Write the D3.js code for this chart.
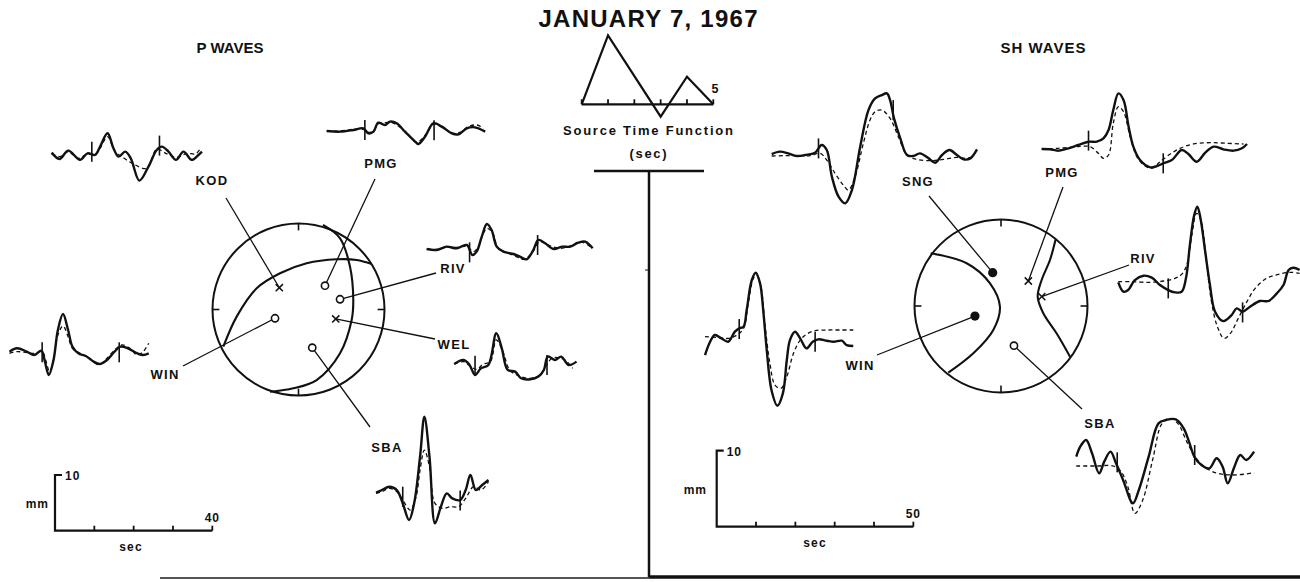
<!DOCTYPE html>
<html>
<head>
<meta charset="utf-8">
<script src="https://cdn.jsdelivr.net/npm/d3@7"></script>
<style>
  body { margin: 0; background: #fff; }
  svg text { font-family: "Liberation Sans", Arial, sans-serif; font-weight: bold; fill: #111; }
</style>
</head>
<body>
<svg id="fig" width="1300" height="582"></svg>
<script>
// ---- source time function (sec, relative amplitude)
const stfTime = [0, 1, 3, 4, 5];
const stfAmp = [0, 1, -0.18, 0.4, 0];
const stfTicks = [0, 1, 2, 3, 4, 5];

// ---- focal mechanism nodal lines (unit circle coords, x east, y north)
const pPlaneA = [[0.285,0.983],[0.483,0.828],[0.599,0.498],[0.637,0.110],[0.618,-0.122],[0.483,-0.509],[0.211,-0.820],[-0.06,-0.916],[-0.331,-0.956]];
const pPlaneB = [[-0.874,-0.433],[-0.719,-0.083],[-0.486,0.247],[-0.215,0.421],[0.095,0.537],[0.444,0.584],[0.677,0.576],[0.851,0.529]];
const shPlaneA = [[-0.813,0.609],[-0.397,0.494],[-0.127,0.262],[-0.012,-0.008],[-0.089,-0.277],[-0.320,-0.547],[-0.609,-0.771]];
const shPlaneB = [[0.632,0.771],[0.566,0.532],[0.470,0.301],[0.424,0.108],[0.489,-0.084],[0.644,-0.318],[0.798,-0.586]];

// ---- stations
const pStations = ['KOD', 'PMG', 'RIV', 'WEL', 'WIN', 'SBA'];
const pStationXY = [[-0.223,0.253],[0.308,0.277],[0.483,0.119],[0.433,-0.110],[-0.273,-0.102],[0.160,-0.444]];
const pStationMark = ['x', 'o', 'o', 'x', 'o', 'o'];
const shStations = ['SNG', 'PMG', 'RIV', 'WIN', 'SBA'];
const shStationXY = [[-0.096,0.385],[0.316,0.289],[0.471,0.108],[-0.301,-0.116],[0.150,-0.459]];
const shStationMark = ['dot', 'x', 'x', 'dot', 'o'];

// ---- waveforms: [sec, mm]; obs = solid, syn = dashed, picks = window marks
const pKodObs = [[0,0.3],[2.0,-0.84],[4.2,0.66],[7.2,-1.0],[9.1,0.18],[11.0,-0.12],[12.3,1.38],[14.2,3.77],[15.7,1.08],[17.0,-0.42],[18.7,0.48],[20.1,-0.72],[22.3,-4.73],[24.6,-2.21],[26.7,0.78],[28.0,1.38],[29.7,0.48],[31.6,-1.0],[33.5,0.48],[35.6,-1.0],[37.3,-0.12],[38.2,0.48]];
const pKodSyn = [[0,0.06],[2.1,-0.42],[4.2,0.42],[6.8,-0.72],[9.1,0.06],[11.0,-0.06],[12.3,1.08],[14.2,3.17],[16.1,0.48],[17.8,-0.42],[20.8,-1.74],[24.2,-2.51],[26.7,0.9],[29.3,0.06],[31.8,-0.54],[34.4,0.18],[36.5,0.06],[37.7,0.9]];
const pKodPicks = [[10.2,0.48],[27.4,1.56]];

const pPmgObs = [[0,0],[3.4,-0.12],[6.8,0.18],[9.3,0.48],[10.6,-0.42],[11.9,-0.12],[13.1,1.5],[14.8,1.08],[16.1,1.68],[17.8,1.38],[19.9,-0.12],[22.1,-1.62],[23.3,-2.33],[25.0,-1.02],[27.1,1.38],[29.3,0.78],[31.8,-0.42],[33.5,-0.6],[35.6,0.48],[37.7,0.66],[40.3,-0.12]];
const pPmgSyn = [[0,0],[3.4,0],[6.8,0.3],[9.3,0.3],[10.6,-0.24],[11.9,0.06],[13.1,1.26],[14.8,1.5],[16.5,1.5],[18.2,0.9],[20.4,-0.42],[22.5,-1.92],[23.7,-1.74],[25.4,-0.42],[27.3,1.26],[29.7,0.48],[32.2,-0.42],[33.9,-0.24],[36.0,0.78],[38.2,1.08],[39.9,0.48]];
const pPmgPicks = [[9.7,0.18],[27.3,0.12]];

const pRivObs = [[0,0],[2.5,-0.18],[5.1,0.42],[7.6,0.12],[10.2,0.72],[11.6,-1.08],[12.7,-0.48],[14.0,2.21],[15.3,4.49],[16.5,3.41],[17.8,0.42],[19.5,-0.48],[22.1,-0.9],[23.7,-1.38],[25.4,-1.86],[27.1,-0.18],[28.4,1.62],[30.1,1.02],[32.2,0],[34.4,0.42],[36.5,0.42],[38.6,1.14],[40.3,1.32],[42.2,0.12]];
const pRivSyn = [[0,0],[2.5,-0.06],[5.1,0.3],[7.6,0.3],[10.2,0.42],[11.9,-0.48],[13.1,0.42],[14.4,2.81],[15.4,3.71],[16.8,2.81],[18.2,0.12],[20.4,-0.66],[22.5,-1.26],[24.6,-1.86],[26.7,-0.78],[28.8,1.32],[31.4,0.54],[33.9,0.12],[36.5,0.54],[39.0,1.32],[41.6,0.42]];
const pRivPicks = [[10.9,-0.6],[28.2,0.72]];

const pWinObs = [[0,0.12],[1.9,0.72],[4.4,0.12],[6.3,-0.48],[8.1,0.3],[9.0,-1.68],[10.0,-4.07],[11.2,-1.38],[12.3,4.0],[13.6,6.88],[14.9,4.0],[16.0,1.02],[17.5,-0.18],[19.4,-0.66],[21.4,-1.68],[23.0,-2.09],[24.8,-1.38],[26.7,0.12],[28.2,1.02],[30.1,0.72],[32.5,-0.18],[34.0,-0.48],[35.4,-0.18]];
const pWinSyn = [[0,-0.18],[1.9,0.12],[4.4,-0.06],[6.3,-0.18],[8.3,0.12],[9.2,-1.38],[10.2,-3.47],[11.2,-1.2],[12.3,3.11],[13.6,4.73],[14.9,2.81],[16.0,0.72],[18.0,-0.18],[20.4,-1.08],[22.6,-2.27],[24.8,-1.08],[26.7,0.42],[28.6,1.32],[30.6,0.72],[32.5,-0.48],[34.0,0.12],[35.4,1.62]];
const pWinPicks = [[8.3,0],[27.9,0]];

const pWelObs = [[0,-0.12],[2.4,0.6],[3.9,-0.3],[5.3,-2.09],[6.8,-0.9],[8.7,-0.3],[10.7,5.39],[12.1,2.69],[13.6,-1.2],[15.5,-1.5],[17.0,-2.69],[19.4,-2.87],[21.4,-2.39],[22.8,-1.2],[23.8,1.2],[25.7,0.6],[27.2,1.2],[29.1,-0.3],[31.1,0.3]];
const pWelSyn = [[0,-0.12],[2.4,0.3],[4.4,-0.72],[5.8,-1.08],[7.3,-0.18],[9.2,0.3],[10.7,4.19],[12.4,2.09],[14.1,-1.2],[16.5,-2.27],[19.4,-2.69],[21.8,-2.09],[23.5,-0.3],[24.8,0.9],[26.2,1.02],[28.2,0.6],[30.1,-0.9]];
const pWelPicks = [[5.3,-0.45],[23.6,-0.3]];

const pSbaObs = [[0,-0.18],[1.5,0.3],[3.4,0.9],[5.3,0.3],[6.8,-2.09],[8.4,-5.09],[9.7,-2.09],[11.2,6.28],[12.3,13.46],[13.6,6.28],[15.0,-5.69],[16.5,-2.69],[18.0,-0.3],[19.4,-1.2],[21.4,-1.5],[22.8,0.3],[24.0,2.99],[25.4,0.3],[27.0,1.2],[28.6,2.1]];
const pSbaSyn = [[0,-0.3],[1.5,0],[3.4,0.6],[5.3,0],[6.8,-1.5],[8.7,-3.29],[10.2,-0.9],[11.2,3.89],[12.3,7.48],[13.6,4.49],[15.0,-2.09],[17.0,-2.99],[18.9,-2.69],[21.0,-2.69],[22.8,-1.2],[24.8,0.9],[26.7,0.3],[28.6,1.8]];
const pSbaPicks = [[6.8,-0.9],[21.4,-1.6]];

const shSngObs = [[0,0.22],[2.1,0.53],[4.2,0.31],[6.4,-0.04],[8.5,0.09],[11.0,0.39],[12.7,1.4],[14.0,0.75],[15.3,-2.76],[17.0,-5.39],[18.7,-6.27],[20.4,-4.52],[22.5,1.18],[24.6,6.0],[26.3,7.54],[28.0,7.98],[29.3,8.2],[30.1,7.32],[31.1,4.91],[32.7,2.28],[34.4,0.09],[36.0,-0.04],[37.7,0.31],[39.9,-0.35],[41.6,-0.92],[43.3,0.09],[45.2,0.75],[47.1,0.09],[48.8,-0.48],[50.5,-0.35],[52.2,0.83]];
const shSngSyn = [[0,-0.04],[3.0,0],[6.4,0],[9.8,0],[12.3,0.31],[14.0,-0.57],[16.1,-2.32],[18.2,-3.86],[19.5,-4.52],[21.2,-2.76],[23.3,1.62],[25.0,4.69],[26.3,5.79],[28.0,6.0],[30.1,4.91],[32.2,2.5],[34.4,0.09],[36.9,-0.48],[40.2,-0.66],[43.7,-0.48],[47.1,-0.22],[49.6,-0.35],[51.3,-0.13]];
const shSngPicks = [[11.9,0.96],[30.9,6.0]];

const shPmgObs = [[0,0],[2.1,-0.04],[4.2,-0.22],[6.8,0.09],[9.3,0.53],[11.9,0.96],[14.0,0.96],[15.7,1.4],[17.0,2.5],[18.2,5.13],[19.5,7.32],[20.8,6.45],[22.1,2.94],[23.3,0.31],[25.0,-1.45],[27.6,-2.41],[29.3,-2.24],[30.9,-1.89],[33.1,-1.45],[35.6,-0.13],[37.3,-0.66],[39.4,-1.67],[41.6,-0.48],[43.7,0.31],[46.2,-0.04],[48.8,-0.22],[50.9,0.09],[52.2,0.66]];
const shPmgSyn = [[0,0],[4.2,0.09],[9.3,0.31],[12.3,0.31],[14.4,-0.57],[15.7,-1.23],[17.0,-0.79],[18.2,3.38],[19.5,5.57],[20.8,4.91],[22.5,1.62],[24.2,-1.01],[26.3,-2.24],[28.0,-2.54],[30.1,-1.67],[32.7,-0.66],[35.2,0.09],[38.6,0.66],[42.8,0.83],[47.1,0.75],[51.3,0.66]];
const shPmgPicks = [[11.9,1.1],[30.9,-1.89]];

const shRivObs = [[0,-0.09],[1.3,-1.32],[2.5,-1.1],[4.2,0.22],[6.4,0.79],[8.5,0.53],[10.6,-0.44],[12.7,-1.1],[14.4,-1.4],[16.1,-1.32],[17.2,0.44],[18.2,4.82],[19.3,8.77],[20.1,9.87],[20.9,8.33],[22.1,3.95],[23.3,-0.44],[24.6,-3.95],[26.7,-5.18],[28.8,-4.39],[30.1,-3.51],[31.6,-3.95],[33.5,-3.29],[36.0,-2.54],[38.2,-2.54],[40.3,-1.54],[42.0,-0.44],[43.3,1.54],[44.5,1.84],[46.1,1.54]];
const shRivSyn = [[0,0],[3.8,0],[8.1,-0.09],[11.5,0.09],[14.4,0.44],[16.1,0.96],[17.4,2.19],[18.7,6.14],[19.9,8.99],[21.0,8.11],[22.3,3.07],[23.7,-2.63],[25.2,-5.92],[26.9,-7.46],[28.5,-6.8],[30.5,-4.82],[32.7,-2.63],[34.8,-0.88],[37.7,0.44],[40.7,0.96],[43.7,1.23],[46.1,1.1]];
const shRivPicks = [[12.7,-0.88],[31.6,-4.04]];

const shWinObs = [[0,-2.41],[1.3,-0.66],[2.5,0.22],[4.2,-0.22],[5.9,-0.66],[7.6,0.66],[8.7,1.1],[9.8,1.32],[10.6,3.51],[11.9,7.46],[12.9,8.42],[14.0,7.02],[14.8,3.51],[15.7,-1.75],[16.9,-7.02],[18.4,-9.08],[19.8,-7.46],[20.8,-3.07],[21.6,-0.44],[22.9,0.66],[24.2,-0.22],[25.8,-1.54],[27.4,-0.66],[28.8,-0.35],[31.0,-0.53],[32.7,-0.66],[34.8,-0.53],[36.0,-1.1],[37.7,-1.23]];
const shWinSyn = [[0,0],[3.0,-0.09],[5.9,-0.22],[8.1,0.22],[9.8,1.1],[11.0,4.39],[12.3,7.68],[13.1,8.11],[14.2,6.58],[15.3,1.32],[16.5,-3.51],[17.8,-6.36],[19.3,-6.8],[20.8,-5.26],[22.5,-2.19],[24.2,-0.44],[25.9,0.35],[28.0,0.79],[31.0,0.88],[34.4,0.88],[37.7,0.88]];
const shWinPicks = [[8.7,1.0],[28.0,-0.66]];

const shSbaObs = [[0,1.23],[1.0,2.54],[2.5,3.42],[4.0,1.67],[5.8,-0.96],[7.1,0.57],[8.7,1.89],[10.1,0.35],[11.9,-1.84],[14.4,-4.91],[15.9,-3.16],[18.4,1.23],[20.9,5.61],[22.8,6.05],[25.3,6.14],[27.3,4.96],[28.8,2.98],[30.0,1.23],[31.8,0.13],[33.8,-0.31],[35.7,1.01],[37.2,-0.09],[38.5,-2.28],[40.2,-0.09],[41.7,1.45],[43.2,0.79],[45.2,1.89]];
const shSbaSyn = [[0,0],[5.0,0],[9.4,0],[11.4,-0.75],[13.1,-2.72],[14.9,-6.23],[16.9,-4.47],[19.4,0.79],[21.8,5.61],[23.8,6.27],[25.8,5.61],[28.3,2.98],[30.8,0.79],[33.8,-0.53],[36.7,-1.05],[40.7,-1.18],[45.2,-0.88]];
const shSbaPicks = [[10.4,0.48],[30.1,1.45]];

// ---- scale bars
const pTimeTicks = [0, 10, 20, 30, 40];
const shTimeTicks = [0, 10, 20, 30, 40, 50];
const ampTicks = [0, 10];

// ---- layout (pixels)
const SEC_PX = 3.933;
const P_MM_PX = 5.57;
const SH_MM_PX = 7.6;
const pBall = { cx: 298.5, cy: 309.5, r: 86 };
const shBall = { cx: 1001, cy: 306, r: 86.5 };

const pLayout = {
  KOD: { lx: 212, ly: 185, ex: 226, ey: 198, x0: 51.7, y0: 154.3 },
  PMG: { lx: 381, ly: 168, ex: 375, ey: 179, x0: 326.7, y0: 131 },
  RIV: { lx: 453, ly: 273, ex: 436, ey: 273, x0: 426.7, y0: 249 },
  WEL: { lx: 454, ly: 349, ex: 435, ey: 339, x0: 454.2, y0: 363.3 },
  WIN: { lx: 165, ly: 379, ex: 183, ey: 366, x0: 9.5, y0: 352.3 },
  SBA: { lx: 387, ly: 452, ex: 370, ey: 427, x0: 376, y0: 491.7 }
};
const shLayout = {
  SNG: { lx: 918, ly: 186, ex: 929, ey: 196, x0: 771.7, y0: 155.7 },
  PMG: { lx: 1062, ly: 177, ex: 1063, ey: 187, x0: 1041.7, y0: 149 },
  RIV: { lx: 1143, ly: 263, ex: 1129, ey: 265, x0: 1118.3, y0: 281.7 },
  WIN: { lx: 860, ly: 370, ex: 877, ey: 355, x0: 705, y0: 336.7 },
  SBA: { lx: 1100, ly: 428, ex: 1082, ey: 409, x0: 1076.3, y0: 466 }
};

const pWaves = { KOD: [pKodObs, pKodSyn, pKodPicks], PMG: [pPmgObs, pPmgSyn, pPmgPicks], RIV: [pRivObs, pRivSyn, pRivPicks],
  WEL: [pWelObs, pWelSyn, pWelPicks], WIN: [pWinObs, pWinSyn, pWinPicks], SBA: [pSbaObs, pSbaSyn, pSbaPicks] };
const shWaves = { SNG: [shSngObs, shSngSyn, shSngPicks], PMG: [shPmgObs, shPmgSyn, shPmgPicks], RIV: [shRivObs, shRivSyn, shRivPicks],
  WIN: [shWinObs, shWinSyn, shWinPicks], SBA: [shSbaObs, shSbaSyn, shSbaPicks] };

const svg = d3.select('#fig');
const ink = '#111';

// ---- titles
svg.append('text').attr('x', 648).attr('y', 27).attr('text-anchor', 'middle')
  .attr('font-size', 24).attr('textLength', 219).attr('lengthAdjust', 'spacing').text('JANUARY 7, 1967');
svg.append('text').attr('x', 230).attr('y', 53).attr('text-anchor', 'middle')
  .attr('font-size', 15).attr('textLength', 67).attr('lengthAdjust', 'spacing').text('P WAVES');
svg.append('text').attr('x', 1043).attr('y', 53).attr('text-anchor', 'middle')
  .attr('font-size', 15).attr('textLength', 85).attr('lengthAdjust', 'spacing').text('SH WAVES');

// ---- source time function
{
  const x = d3.scaleLinear().domain([0, 5]).range([581.7, 713.3]);
  const y = d3.scaleLinear().domain([0, 1]).range([104.3, 35.3]);
  const g = svg.append('g').attr('stroke', ink).attr('fill', 'none');
  g.append('line').attr('x1', x(0)).attr('x2', x(5)).attr('y1', y(0)).attr('y2', y(0)).attr('stroke-width', 2.2);
  g.selectAll('line.tk').data(stfTicks).join('line').attr('class', 'tk')
    .attr('x1', d => x(d)).attr('x2', d => x(d)).attr('y1', y(0)).attr('y2', y(0) - 5).attr('stroke-width', 1.8);
  g.append('path').attr('stroke-width', 2.2).attr('stroke-linejoin', 'miter')
    .attr('d', d3.line().x((d, i) => x(stfTime[i])).y(d => y(d))(stfAmp));
  svg.append('text').attr('x', 715).attr('y', 93).attr('text-anchor', 'middle').attr('font-size', 12.5).text('5');
  svg.append('text').attr('x', 648).attr('y', 135).attr('text-anchor', 'middle').attr('font-size', 13)
    .attr('textLength', 170).attr('lengthAdjust', 'spacing').text('Source Time Function');
  svg.append('text').attr('x', 648).attr('y', 158).attr('text-anchor', 'middle').attr('font-size', 13)
    .attr('textLength', 37).attr('lengthAdjust', 'spacing').text('(sec)');
}

// ---- dividers
svg.append('line').attr('x1', 594).attr('x2', 704).attr('y1', 171).attr('y2', 171).attr('stroke', ink).attr('stroke-width', 2.5);
svg.append('line').attr('x1', 649).attr('x2', 649).attr('y1', 171).attr('y2', 578).attr('stroke', ink).attr('stroke-width', 2.5);
svg.append('line').attr('x1', 645).attr('x2', 649).attr('y1', 270).attr('y2', 270).attr('stroke', ink).attr('stroke-width', 1);
svg.append('line').attr('x1', 160).attr('x2', 649).attr('y1', 578).attr('y2', 578).attr('stroke', '#555').attr('stroke-width', 2);
svg.append('line').attr('x1', 649).attr('x2', 1300).attr('y1', 577).attr('y2', 577).attr('stroke', ink).attr('stroke-width', 3.5);

// ---- waveforms
function drawWave(obs, syn, picks, lay, mmPx) {
  const x = d3.scaleLinear().domain([0, 10]).range([lay.x0, lay.x0 + 10 * SEC_PX]);
  const y = d3.scaleLinear().domain([0, 10]).range([lay.y0, lay.y0 - 10 * mmPx]);
  const line = d3.line().x(d => x(d[0])).y(d => y(d[1])).curve(d3.curveCatmullRom.alpha(0.5));
  const g = svg.append('g').attr('fill', 'none').attr('stroke', ink);
  g.append('path').attr('d', line(syn)).attr('stroke-width', 1.3).attr('stroke-dasharray', '4,3');
  g.append('path').attr('d', line(obs)).attr('stroke-width', 2.4).attr('stroke-linejoin', 'round');
  g.selectAll('line').data(picks).join('line')
    .attr('x1', d => x(d[0])).attr('x2', d => x(d[0]))
    .attr('y1', d => y(d[1]) - 10).attr('y2', d => y(d[1]) + 10).attr('stroke-width', 1.6);
}
Object.entries(pWaves).forEach(([k, w]) => drawWave(w[0], w[1], w[2], pLayout[k], P_MM_PX));
Object.entries(shWaves).forEach(([k, w]) => drawWave(w[0], w[1], w[2], shLayout[k], SH_MM_PX));

// ---- focal spheres
function drawBall(ball, planes, names, xy, marks, layout) {
  const x = d3.scaleLinear().domain([-1, 1]).range([ball.cx - ball.r, ball.cx + ball.r]);
  const y = d3.scaleLinear().domain([-1, 1]).range([ball.cy + ball.r, ball.cy - ball.r]);
  const g = svg.append('g').attr('fill', 'none').attr('stroke', ink);
  g.append('circle').attr('cx', x(0)).attr('cy', y(0)).attr('r', ball.r).attr('stroke-width', 2);
  const card = [[0, 1], [1, 0], [0, -1], [-1, 0]];
  g.selectAll('line.card').data(card).join('line').attr('class', 'card')
    .attr('x1', d => x(d[0])).attr('y1', d => y(d[1]))
    .attr('x2', d => x(d[0] * 0.92)).attr('y2', d => y(d[1] * 0.92)).attr('stroke-width', 1.6);
  const curve = d3.line().x(d => x(d[0])).y(d => y(d[1])).curve(d3.curveCatmullRom.alpha(0.5));
  planes.forEach(p => g.append('path').attr('d', curve(p)).attr('stroke-width', 2.1));
  // leaders
  g.selectAll('line.lead').data(names).join('line').attr('class', 'lead')
    .attr('x1', (d, i) => x(xy[i][0])).attr('y1', (d, i) => y(xy[i][1]))
    .attr('x2', d => layout[d].ex).attr('y2', d => layout[d].ey).attr('stroke-width', 1.3);
  // markers
  names.forEach((n, i) => {
    const px = x(xy[i][0]), py = y(xy[i][1]);
    if (marks[i] === 'x') {
      g.append('path').attr('d', `M${px - 3.6},${py - 3.6}L${px + 3.6},${py + 3.6}M${px - 3.6},${py + 3.6}L${px + 3.6},${py - 3.6}`)
        .attr('stroke-width', 1.5);
    } else if (marks[i] === 'o') {
      g.append('circle').attr('cx', px).attr('cy', py).attr('r', 3.6).attr('fill', '#fff').attr('stroke-width', 1.6);
    } else {
      g.append('circle').attr('cx', px).attr('cy', py).attr('r', 4.6).attr('fill', ink).attr('stroke', 'none');
    }
  });
  svg.selectAll(null).data(names).join('text')
    .attr('x', d => layout[d].lx).attr('y', d => layout[d].ly).attr('text-anchor', 'middle')
    .attr('font-size', 13).attr('letter-spacing', 1.3).text(d => d);
}
drawBall(pBall, [pPlaneA, pPlaneB], pStations, pStationXY, pStationMark, pLayout);
drawBall(shBall, [shPlaneA, shPlaneB], shStations, shStationXY, shStationMark, shLayout);

// ---- amplitude / time scale bars
function drawScale(ticks, ox, oy, mmPx, labs) {
  const x = d3.scaleLinear().domain([0, d3.max(ticks)]).range([ox, ox + d3.max(ticks) * SEC_PX]);
  const y = d3.scaleLinear().domain([0, 10]).range([oy, oy - 10 * mmPx]);
  const g = svg.append('g').attr('stroke', ink).attr('fill', 'none');
  g.append('path').attr('stroke-width', 2.2)
    .attr('d', `M${x(0) + 7},${y(ampTicks[1])}H${x(0)}V${y(0)}H${x(d3.max(ticks))}`);
  g.selectAll('line').data(ticks.slice(1)).join('line')
    .attr('x1', d => x(d)).attr('x2', d => x(d)).attr('y1', y(0)).attr('y2', y(0) - 5).attr('stroke-width', 1.8);
  svg.append('text').attr('x', x(0) + 10).attr('y', y(10) + 5).attr('font-size', 12).attr('letter-spacing', 1).text(ampTicks[1]);
  svg.append('text').attr('x', x(d3.max(ticks))).attr('y', y(0) - 9).attr('text-anchor', 'middle')
    .attr('font-size', 12).attr('letter-spacing', 1).text(d3.max(ticks));
  svg.append('text').attr('x', labs.mmX).attr('y', labs.mmY).attr('text-anchor', 'end')
    .attr('font-size', 12).attr('letter-spacing', 1).text('mm');
  svg.append('text').attr('x', labs.secX).attr('y', labs.secY).attr('text-anchor', 'middle')
    .attr('font-size', 12).attr('letter-spacing', 1.2).text('sec');
}
drawScale(pTimeTicks, 55, 530.7, P_MM_PX, { mmX: 49, mmY: 508, secX: 131, secY: 551 });
drawScale(shTimeTicks, 716.7, 526.7, SH_MM_PX, { mmX: 707, mmY: 494, secX: 815, secY: 547 });
</script>
</body>
</html>
